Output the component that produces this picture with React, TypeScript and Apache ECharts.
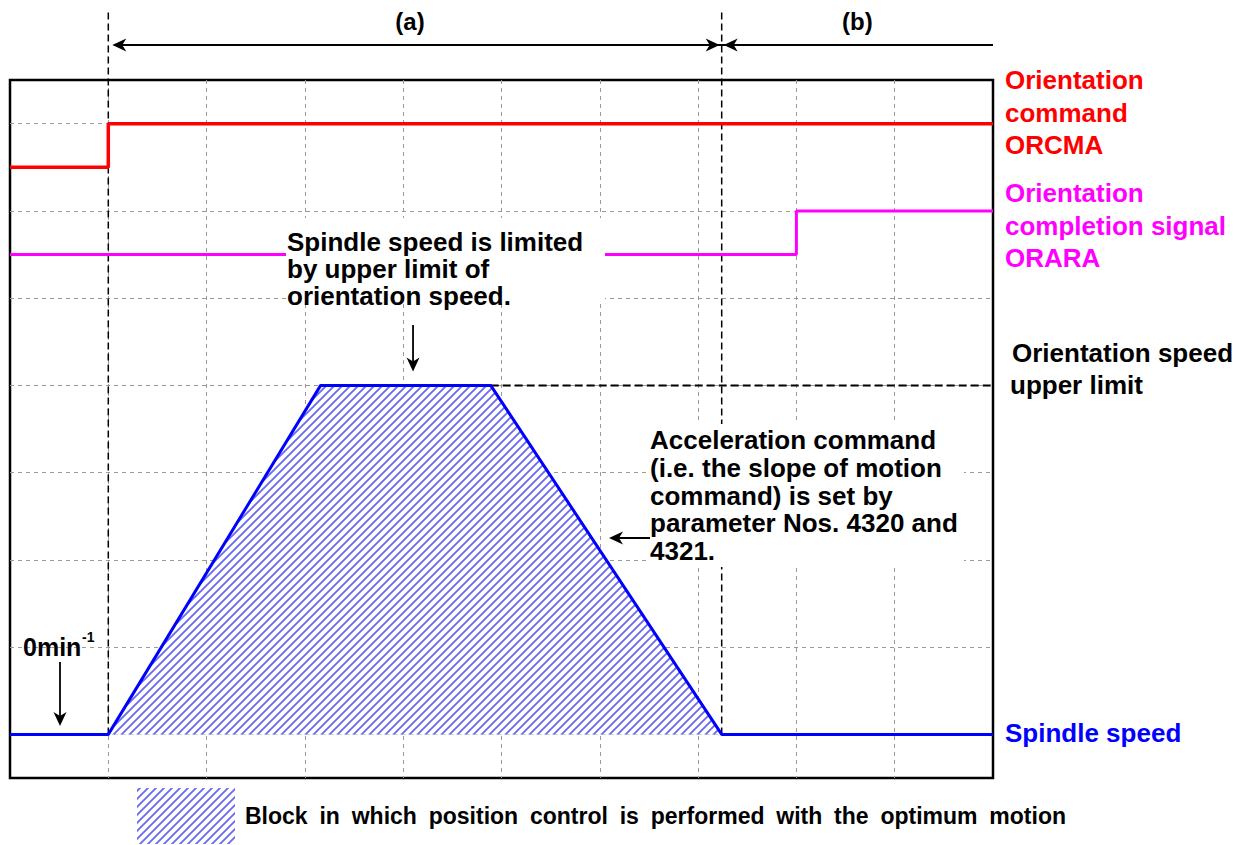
import React, { useEffect, useRef } from "react";
import * as echarts from "echarts";

// Grid units: x 0..10 (one dashed column each), y -0.5..7.5 (dashed rows at integers)
const speedX = [0, 1, 3.16, 4.89, 7.24, 10];
const speedY = [0, 0, 4, 4, 0, 0];
const orcmaX = [0, 1, 1, 10];
const orcmaY = [6.5, 6.5, 7, 7];
const oraraX = [0, 8, 8, 10];
const oraraY = [5.5, 5.5, 6, 6];
const limitX = [4.89, 10.12];
const limitY = [4, 4];
const phaseBounds = [1, 7.24, 10];
const boundaryTop = 8.3;

const labelOrcma = ["Orientation", "command", "ORCMA"];
const labelOrara = ["Orientation", "completion signal", "ORARA"];
const labelLimit = ["Orientation speed", "upper limit"];
const labelSpeed = "Spindle speed";
const noteLimit = ["Spindle speed is limited", "by upper limit of", "orientation speed."];
const noteAccel = [
  "Acceleration command",
  "(i.e. the slope of motion",
  "command) is set by",
  "parameter Nos. 4320 and",
  "4321.",
];
const legendText = "Block in which position control is performed with the optimum motion";

const zip = (xs: number[], ys: number[]) => xs.map((x, i) => [x, ys[i]]);

const FONT = "'Liberation Sans', Arial, sans-serif";

function makeHatch(size: number) {
  const c = document.createElement("canvas");
  c.width = size;
  c.height = size;
  const g = c.getContext("2d")!;
  g.fillStyle = "#ffffff";
  g.fillRect(0, 0, size, size);
  g.strokeStyle = "rgba(50,50,230,0.72)";
  g.lineWidth = 1.9;
  g.beginPath();
  g.moveTo(-1, size + 1);
  g.lineTo(size + 1, -1);
  g.moveTo(-2, 2);
  g.lineTo(2, -2);
  g.moveTo(size - 2, size + 2);
  g.lineTo(size + 2, size - 2);
  g.stroke();
  return { image: c.toDataURL(), repeat: "repeat", imageWidth: size, imageHeight: size } as any;
}

function arrowHead(tx: number, ty: number, dir: "left" | "right" | "down", color = "#000") {
  const L = 14, W = 6.5, N = 10;
  let pts: number[][];
  if (dir === "left") pts = [[tx, ty], [tx + L, ty - W], [tx + N, ty], [tx + L, ty + W]];
  else if (dir === "right") pts = [[tx, ty], [tx - L, ty - W], [tx - N, ty], [tx - L, ty + W]];
  else pts = [[tx, ty], [tx - W, ty - L], [tx, ty - N], [tx + W, ty - L]];
  return { type: "polygon", z: 120, shape: { points: pts }, style: { fill: color } };
}

function textEl(text: string, x: number, y: number, color: string, size = 26, extra: any = {}) {
  return {
    type: "text",
    z: 130,
    x,
    y,
    style: {
      text,
      fill: color,
      fontSize: size,
      fontWeight: "bold",
      fontFamily: FONT,
      textVerticalAlign: "middle",
      textAlign: "left",
      ...extra,
    },
  };
}

export default function App() {
  const ref = useRef<HTMLDivElement>(null);
  useEffect(() => {
    document.body.style.margin = "0";
    const chart = echarts.init(ref.current!, undefined, { renderer: "svg" });
    const hatch = makeHatch(8);
    const dashedGrid = { show: true, showMinLine: false, showMaxLine: false, lineStyle: { color: "#9a9a9a", type: [4, 4], width: 1 } };
    chart.setOption({
      animation: false,
      grid: { left: 10, right: 255, top: 80, bottom: 67, show: true, borderColor: "#000", borderWidth: 2.5, backgroundColor: "transparent" },
      xAxis: {
        type: "value", min: 0, max: 10, interval: 1,
        axisLine: { show: false }, axisTick: { show: false }, axisLabel: { show: false },
        splitLine: dashedGrid,
      },
      yAxis: {
        type: "value", min: -0.5, max: 7.5, splitNumber: 8,
        axisLine: { show: false }, axisTick: { show: false }, axisLabel: { show: false },
        splitLine: dashedGrid,
      },
      series: [
        {
          type: "line", data: zip(speedX, speedY), showSymbol: false, z: 5,
          lineStyle: { color: "#0000ff", width: 3 }, itemStyle: { color: "#0000ff" },
          areaStyle: { color: hatch, origin: 0, opacity: 1 },
        },
        {
          type: "line", data: zip(orcmaX, orcmaY), showSymbol: false, z: 5,
          lineStyle: { color: "#ff0000", width: 3.5 }, itemStyle: { color: "#ff0000" },
        },
        {
          type: "line", data: zip(oraraX, oraraY), showSymbol: false, z: 5,
          lineStyle: { color: "#ff00ff", width: 3 }, itemStyle: { color: "#ff00ff" },
        },
        {
          type: "line", data: zip(limitX, limitY), showSymbol: false, clip: false, z: 4,
          lineStyle: { color: "#000", width: 2, type: [8, 4] }, itemStyle: { color: "#000" },
        },
        {
          type: "line", data: [[phaseBounds[0], 0], [phaseBounds[0], boundaryTop]], showSymbol: false, clip: false, z: 4,
          lineStyle: { color: "#000", width: 1.5, type: [7, 4] }, itemStyle: { color: "#000" },
        },
        {
          type: "line", data: [[phaseBounds[1], 0], [phaseBounds[1], boundaryTop]], showSymbol: false, clip: false, z: 4,
          lineStyle: { color: "#000", width: 1.5, type: [7, 4] }, itemStyle: { color: "#000" },
        },
      ],
    });

    const px = (x: number, y: number) => chart.convertToPixel({ gridIndex: 0 }, [x, y]) as number[];
    const pA = px(phaseBounds[0], 0);
    const pB = px(phaseBounds[1], 0);
    const pEnd = px(phaseBounds[2], 0);
    const topLimit = px(speedX[3], speedY[3]);
    const arrowY = 45;
    const gfx: any[] = [];
    // phase arrows
    gfx.push({ type: "line", z: 120, shape: { x1: pA[0] + 6, y1: arrowY, x2: pEnd[0], y2: arrowY }, style: { stroke: "#000", lineWidth: 1.8 } });
    gfx.push(arrowHead(pA[0] + 4, arrowY, "left"));
    gfx.push(arrowHead(pB[0] - 2, arrowY, "right"));
    gfx.push(arrowHead(pB[0] + 2, arrowY, "left"));
    gfx.push(textEl("(a)", (pA[0] + pB[0]) / 2 - 5, 21, "#000", 24, { textAlign: "center" }));
    gfx.push(textEl("(b)", (pB[0] + pEnd[0]) / 2, 21, "#000", 24, { textAlign: "center" }));

    // note: speed limited
    gfx.push({ type: "rect", z: 110, shape: { x: 286, y: 218, width: 319, height: 82 }, style: { fill: "#fff" } });
    noteLimit.forEach((t, i) => gfx.push(textEl(t, 287, 242 + i * 27, "#000", 26)));
    const ax = px(4.1, 0)[0];
    gfx.push({ type: "line", z: 120, shape: { x1: ax, y1: 325, x2: ax, y2: topLimit[1] - 18 }, style: { stroke: "#000", lineWidth: 1.8 } });
    gfx.push(arrowHead(ax, topLimit[1] - 14, "down"));

    // note: acceleration
    gfx.push({ type: "rect", z: 110, shape: { x: 646, y: 424, width: 318, height: 143 }, style: { fill: "#fff" } });
    noteAccel.forEach((t, i) => gfx.push(textEl(t, 650, 440 + i * 27.8, "#000", 26)));
    gfx.push({ type: "line", z: 120, shape: { x1: 614, y1: 538, x2: 650, y2: 538 }, style: { stroke: "#000", lineWidth: 1.8 } });
    gfx.push(arrowHead(609, 538, "left"));

    // 0 min^-1
    gfx.push(textEl("0min", 23, 647, "#000", 25));
    gfx.push(textEl("-1", 82, 637, "#000", 14));
    gfx.push({ type: "line", z: 120, shape: { x1: 60, y1: 662, x2: 60, y2: 716 }, style: { stroke: "#000", lineWidth: 1.8 } });
    gfx.push(arrowHead(60, 726, "down"));

    // right labels
    labelOrcma.forEach((t, i) => gfx.push(textEl(t, 1005, 80 + i * 32.5, "#ff0000", 26)));
    labelOrara.forEach((t, i) => gfx.push(textEl(t, 1005, 193 + i * 32.5, "#ff00ff", 26)));
    gfx.push(textEl(labelLimit[0], 1012, 353, "#000", 26));
    gfx.push(textEl(labelLimit[1], 1010, 385, "#000", 26));
    gfx.push(textEl(labelSpeed, 1005, 733, "#0000ff", 26));

    // legend: words spread to span the same width as the reference line
    gfx.push({ type: "rect", z: 110, shape: { x: 137, y: 788, width: 98, height: 56 }, style: { fill: hatch } });
    const words = legendText.split(" ");
    const mc = document.createElement("canvas").getContext("2d")!;
    const legSize = 23;
    mc.font = `bold ${legSize}px 'Liberation Sans', Arial, sans-serif`;
    const widths = words.map((w) => mc.measureText(w).width);
    const total = 821;
    const gap = Math.max(6, (total - widths.reduce((a, b) => a + b, 0)) / (words.length - 1));
    let cx = 245;
    words.forEach((w, i) => {
      gfx.push(textEl(w, cx, 816, "#000", legSize));
      cx += widths[i] + gap;
    });

    chart.setOption({ graphic: { elements: gfx } });
    return () => chart.dispose();
  }, []);
  return <div ref={ref} style={{ position: "absolute", left: 0, top: 0, width: 1248, height: 845 }} />;
}
